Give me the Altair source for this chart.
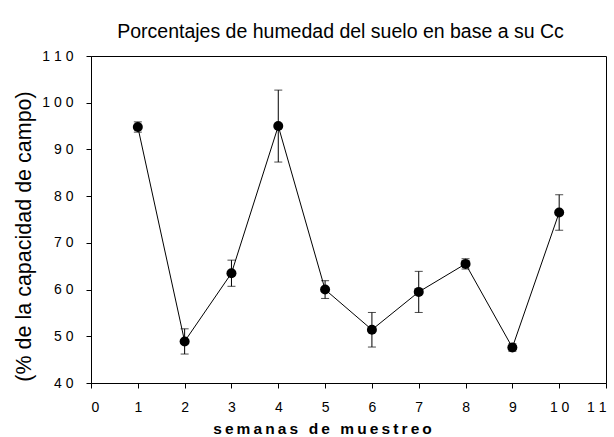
import altair as alt
import pandas as pd

# Weekly soil moisture as % of field capacity (Cc), mean and error
semanas = [1, 2, 3, 4, 5, 6, 7, 8, 9, 10]
humedad = [94.8, 48.9, 63.5, 95.0, 60.0, 51.4, 59.5, 65.5, 47.6, 76.5]
error = [1.1, 2.7, 2.8, 7.7, 1.9, 3.7, 4.4, 1.1, 0.8, 3.8]

x_ticks = list(range(0, 12))
y_ticks = list(range(40, 111, 10))

df = pd.DataFrame({"semana": semanas, "humedad": humedad, "error": error})
df["inferior"] = df["humedad"] - df["error"]
df["superior"] = df["humedad"] + df["error"]

NARROW = "Liberation Sans Narrow, Arial Narrow, Liberation Sans, sans-serif"
SANS = "Liberation Sans, Arial, sans-serif"

# letter-spaced axis title: thin spaces between letters, wider gaps between words
thin = "\u2009"
word_gap = "\u2009\u00a0\u2009"
x_title = word_gap.join(thin.join(w) for w in ["semanas", "de", "muestreo"])
spaced = "join(split(datum.label, ''), ' ')"

x_enc = alt.X(
    "semana:Q",
    scale=alt.Scale(domain=[0, 11], nice=False, zero=False),
    axis=alt.Axis(
        values=x_ticks, title=x_title, labelExpr=spaced,
        titleFont=NARROW, titleFontSize=15.5, titleFontWeight="bold",
        titleX=231, titleY=50, titleBaseline="alphabetic", titleAlign="center",
        labelPadding=12,
    ),
)
y_scale = alt.Scale(domain=[40, 110], nice=False, zero=False)
y_enc = alt.Y(
    "humedad:Q",
    scale=y_scale,
    axis=alt.Axis(
        values=y_ticks, title="(% de la capacidad de campo)", labelExpr=spaced,
        titleFont=SANS, titleFontSize=21.5, titleFontWeight="normal",
        titleX=-67, titleY=180, titleBaseline="middle", titleAlign="center",
        titleAngle=-90, labelPadding=13,
    ),
)

base = alt.Chart(df)

linea = base.mark_line(color="black", strokeWidth=1).encode(x=x_enc, y=y_enc)
barras = base.mark_rule(color="black", strokeWidth=1).encode(
    x="semana:Q", y=alt.Y("inferior:Q", scale=y_scale), y2="superior:Q"
)
tope = base.mark_tick(color="black", orient="horizontal", size=8, thickness=1).encode(
    x="semana:Q", y=alt.Y("superior:Q", scale=y_scale)
)
piso = base.mark_tick(color="black", orient="horizontal", size=8, thickness=1).encode(
    x="semana:Q", y=alt.Y("inferior:Q", scale=y_scale)
)
puntos = base.mark_point(filled=True, color="black", opacity=1, size=100, shape="circle").encode(
    x="semana:Q", y="humedad:Q"
)

chart = (
    alt.layer(linea, barras, tope, piso, puntos)
    .properties(
        width=515,
        height=327,
        autosize=alt.AutoSizeParams(type="none"),
        padding={"left": 91, "top": 56, "right": 8, "bottom": 54},
        background="white",
        title=alt.TitleParams(
            "Porcentajes de humedad del suelo en base a su Cc",
            font=SANS, fontSize=19.5, fontWeight="normal", color="black",
            anchor="middle", dx=-8, offset=7,
        ),
    )
    .configure_view(stroke="black", strokeWidth=1)
    .configure_axis(
        grid=False,
        domainColor="black",
        tickColor="black",
        tickSize=5,
        labelFont=NARROW,
        labelFontSize=14,
        labelColor="black",
        titleColor="black",
    )
)

chart.save("out.html", embed_options={"renderer": "svg", "actions": False})
